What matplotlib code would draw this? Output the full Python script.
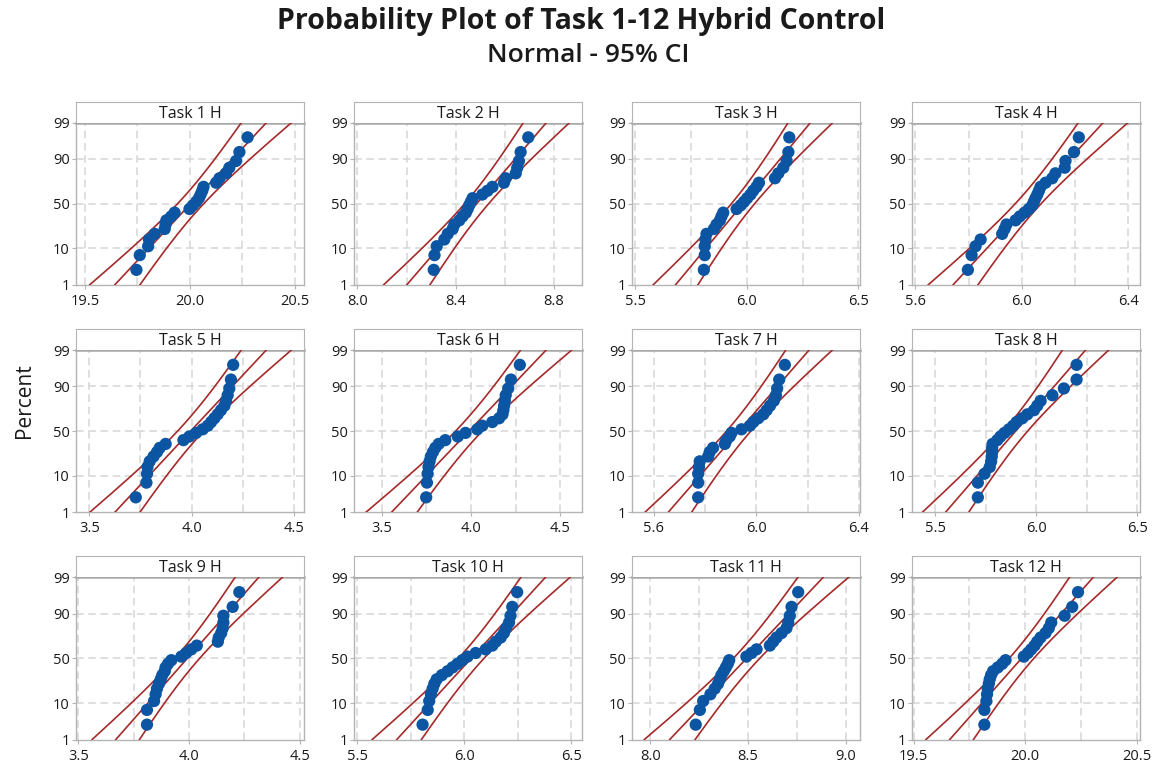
import matplotlib
matplotlib.use("Agg")
import matplotlib.pyplot as plt
import numpy as np
from statistics import NormalDist

plt.rcParams['font.family'] = ['Open Sans', 'DejaVu Sans']

task_names = [f"Task {i} H" for i in range(1, 13)]

task1 = [19.745, 19.761, 19.801, 19.805, 19.832, 19.880, 19.884, 19.888, 19.911, 19.927, 19.998, 20.014,
         20.030, 20.043, 20.051, 20.059, 20.065, 20.125, 20.141, 20.172, 20.188, 20.220, 20.236, 20.275]
task2 = [8.311, 8.314, 8.323, 8.354, 8.368, 8.388, 8.395, 8.415, 8.428, 8.442, 8.449, 8.455,
         8.462, 8.469, 8.509, 8.530, 8.550, 8.597, 8.604, 8.645, 8.651, 8.658, 8.665, 8.696]
task3 = [5.807, 5.811, 5.811, 5.814, 5.819, 5.852, 5.864, 5.879, 5.886, 5.894, 5.954, 5.972,
         5.987, 6.001, 6.016, 6.028, 6.043, 6.054, 6.126, 6.141, 6.163, 6.178, 6.186, 6.190]
task4 = [5.797, 5.811, 5.826, 5.845, 5.926, 5.935, 5.942, 5.976, 5.992, 6.010, 6.026, 6.039,
         6.045, 6.051, 6.058, 6.064, 6.070, 6.089, 6.114, 6.126, 6.161, 6.164, 6.196, 6.214]
task5 = [3.727, 3.779, 3.782, 3.784, 3.795, 3.814, 3.831, 3.844, 3.873, 3.960, 3.989, 4.022,
         4.054, 4.079, 4.095, 4.111, 4.127, 4.143, 4.160, 4.168, 4.176, 4.184, 4.192, 4.203]
task6 = [3.750, 3.754, 3.758, 3.763, 3.769, 3.776, 3.788, 3.801, 3.820, 3.857, 3.927, 3.970,
         4.036, 4.064, 4.120, 4.158, 4.177, 4.182, 4.186, 4.190, 4.195, 4.209, 4.224, 4.274]
task7 = [5.773, 5.773, 5.773, 5.776, 5.779, 5.812, 5.818, 5.831, 5.877, 5.883, 5.896, 5.903,
         5.942, 5.975, 5.988, 6.007, 6.027, 6.040, 6.053, 6.068, 6.076, 6.081, 6.089, 6.111]
task8 = [5.710, 5.710, 5.743, 5.769, 5.776, 5.779, 5.781, 5.781, 5.783, 5.806, 5.822, 5.842,
         5.864, 5.885, 5.902, 5.930, 5.955, 5.988, 6.004, 6.021, 6.079, 6.136, 6.199, 6.199]
task9 = [3.810, 3.810, 3.842, 3.849, 3.855, 3.864, 3.872, 3.879, 3.890, 3.894, 3.905, 3.920,
         3.965, 3.987, 4.010, 4.035, 4.130, 4.134, 4.145, 4.152, 4.155, 4.155, 4.197, 4.227]
task10 = [5.805, 5.829, 5.836, 5.844, 5.852, 5.860, 5.871, 5.895, 5.922, 5.945, 5.968, 5.991,
          6.015, 6.053, 6.100, 6.131, 6.147, 6.170, 6.185, 6.196, 6.209, 6.216, 6.224, 6.247]
task11 = [8.232, 8.253, 8.270, 8.307, 8.329, 8.346, 8.355, 8.363, 8.375, 8.386, 8.396, 8.403,
          8.491, 8.517, 8.543, 8.611, 8.628, 8.645, 8.671, 8.696, 8.705, 8.713, 8.722, 8.756]
task12 = [19.817, 19.817, 19.826, 19.829, 19.832, 19.837, 19.841, 19.847, 19.856, 19.877, 19.897, 19.912,
          19.994, 20.012, 20.027, 20.042, 20.054, 20.069, 20.091, 20.106, 20.117, 20.177, 20.211, 20.237]
task_data = [task1, task2, task3, task4, task5, task6, task7, task8, task9, task10, task11, task12]

# fitted normal line (mean, stdev) per task
fit_mean = [20.004, 8.486, 5.983, 6.024, 3.995, 3.989, 5.931, 5.897, 3.992, 6.032, 8.4915, 19.9835]
fit_sd = [0.1554, 0.1223, 0.130, 0.1213, 0.159, 0.186, 0.118, 0.149, 0.1387, 0.1493, 0.1687, 0.1383]

x_ticks = [[19.5, 20.0, 20.5], [8.0, 8.4, 8.8], [5.5, 6.0, 6.5], [5.6, 6.0, 6.4],
           [3.5, 4.0, 4.5], [3.5, 4.0, 4.5], [5.6, 6.0, 6.4], [5.5, 6.0, 6.5],
           [3.5, 4.0, 4.5], [5.5, 6.0, 6.5], [8.0, 8.5, 9.0], [19.5, 20.0, 20.5]]
x_limits = [(19.457, 20.544), (7.986, 8.915), (5.485, 6.507), (5.587, 6.444),
            (3.435, 4.549), (3.346, 4.622), (5.515, 6.404), (5.384, 6.513),
            (3.4895, 4.519), (5.4845, 6.550), (7.906, 9.072), (19.4925, 20.515)]

pct_ticks = [1, 10, 50, 90, 99]

# --- styling ---
W, H = 1154, 766
DOT = "#0b55a3"
RED = "#a52a2a"
SPINE = "#b4b4b4"
GRID = "#d6d6d6"
TXT = "#1a1a1a"

nd = NormalDist()
zq = lambda p: nd.inv_cdf(p / 100.0)
z_lo, z_hi = zq(1), zq(99)

fig = plt.figure(figsize=(W / 100, H / 100), dpi=100)

col_left = [76, 354, 632, 912]
panel_w = 228
row_top = [122.5, 350, 577.3]
panel_h = 162.2
head_h = 21


def px_axes(x0, y0, w, h):
    return fig.add_axes([x0 / W, 1 - (y0 + h) / H, w / W, h / H])


for k, vals in enumerate(task_data):
    r, c = divmod(k, 4)
    ax = px_axes(col_left[c], row_top[r], panel_w, panel_h)
    hd = px_axes(col_left[c], row_top[r] - head_h, panel_w, head_h)

    x = np.sort(np.array(vals))
    n = len(x)
    p = (np.arange(1, n + 1) - 0.3) / (n + 0.4) * 100
    zp = np.array([zq(v) for v in p])

    # fitted line and 95% CI
    zz = np.linspace(z_lo, z_hi, 200)
    mu, sd = fit_mean[k], fit_sd[k]
    xf = mu + zz * sd
    se = sd * np.sqrt(1.0 / n + zz ** 2 / (2.0 * n))
    ax.plot(xf, zz, color=RED, lw=1.2, zorder=3)
    ax.plot(xf - 1.96 * se, zz, color=RED, lw=1.2, zorder=3)
    ax.plot(xf + 1.96 * se, zz, color=RED, lw=1.2, zorder=3)

    ax.scatter(x, zp, s=78, color=DOT, edgecolors="none", zorder=4)

    # axes
    xt = x_ticks[k]
    step = (xt[1] - xt[0]) / 2
    ax.set_xlim(*x_limits[k])
    ax.set_ylim(z_lo, z_hi)
    ax.set_xticks(xt)
    ax.set_xticklabels([f"{v:.1f}" for v in xt])
    ax.set_yticks([zq(v) for v in pct_ticks])
    ax.set_yticklabels([str(v) for v in pct_ticks])
    for g in [xt[0], xt[0] + step, xt[1], xt[1] + step, xt[2]]:
        ax.axvline(g, color=GRID, lw=1.1, ls=(0, (5, 3)), zorder=1)
    for g in [10, 50, 90]:
        ax.axhline(zq(g), color=GRID, lw=1.1, ls=(0, (5, 3)), zorder=1)
    for s in ax.spines.values():
        s.set_color(SPINE)
        s.set_linewidth(1)
    ax.spines["top"].set_linewidth(1.8)
    ax.spines["top"].set_color("#a8a8a8")
    ax.tick_params(axis="both", which="both", length=3, color=SPINE, labelsize=10.5,
                   labelcolor=TXT, pad=1.5)
    ax.tick_params(axis="x", pad=3.5)

    hd.set_xticks([])
    hd.set_yticks([])
    for s in hd.spines.values():
        s.set_color(SPINE)
    hd.spines["bottom"].set_visible(False)
    hd.text(0.5, 0.42, task_names[k], ha="center", va="center", fontsize=11.5, color=TXT,
            transform=hd.transAxes)

fig.text(581 / W, 1 - 22 / H, "Probability Plot of Task 1-12 Hybrid Control",
         ha="center", va="center", fontsize=20.5, fontweight="bold", color=TXT)
fig.text(588 / W, 1 - 55 / H, "Normal - 95% CI",
         ha="center", va="center", fontsize=19, fontweight="semibold", color=TXT)
fig.text(25 / W, 1 - 401 / H, "Percent", ha="center", va="center", rotation=90,
         fontsize=15, color=TXT)

fig.savefig("out.png", dpi=100, facecolor="white")
